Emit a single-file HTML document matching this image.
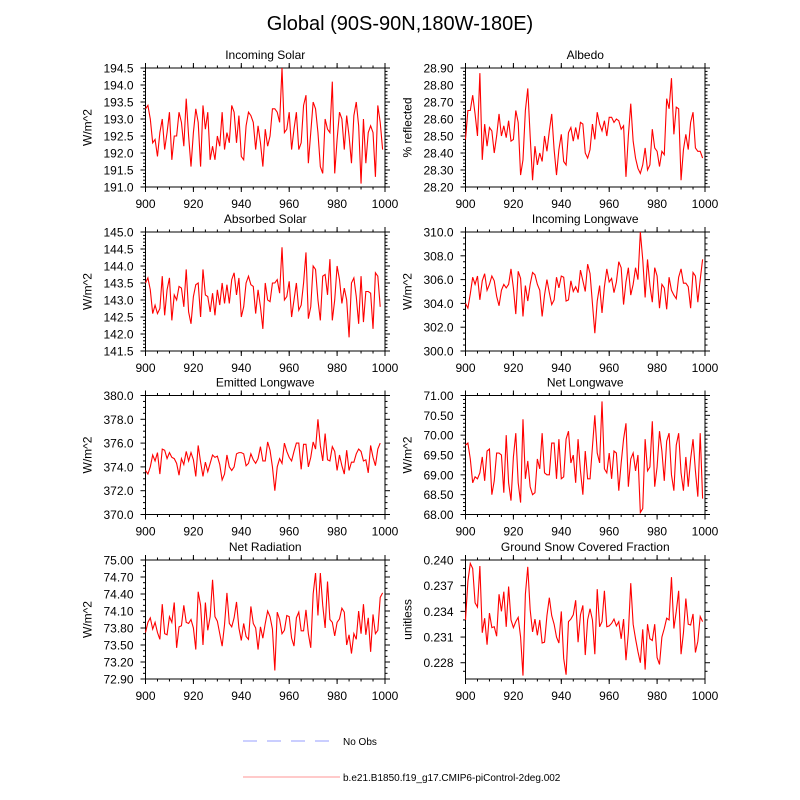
<!DOCTYPE html>
<html><head><meta charset="utf-8">
<style>
html,body{margin:0;padding:0;background:#fff;}
svg{display:block;font-family:"Liberation Sans",sans-serif;}
</style></head>
<body>
<svg id="chart" width="800" height="800" viewBox="0 0 800 800" xmlns="http://www.w3.org/2000/svg">
<rect width="800" height="800" fill="#fff"/>
<text x="400" y="30" font-size="20" text-anchor="middle">Global (90S-90N,180W-180E)</text>
<g id="panels"></g>
<line x1="243" y1="741" x2="333" y2="741" stroke="#aab0ff" stroke-width="1.2" stroke-dasharray="14,10"/>
<text x="343" y="745" font-size="10">No Obs</text>
<line x1="243" y1="777" x2="340" y2="777" stroke="#ffaaaa" stroke-width="1.2"/>
<text x="343" y="781" font-size="10">b.e21.B1850.f19_g17.CMIP6-piControl-2deg.002</text>
</svg>
<script>
const xTicks = [900,920,940,960,980,1000];
const incomingSolar = [193.3,193.4,193.0,192.3,192.4,191.9,192.6,193.0,192.1,192.6,193.2,191.8,192.5,192.5,193.2,192.9,192.2,193.6,192.5,191.6,192.6,193.3,192.9,191.6,193.4,192.7,193.2,191.8,192.2,191.8,192.5,192.2,193.2,192.1,192.6,192.3,193.4,193.2,192.3,193.1,191.9,191.8,192.8,193.2,193.1,192.9,192.1,192.8,192.3,191.6,192.7,192.2,192.5,193.3,193.3,193.2,192.9,194.5,192.6,192.7,193.2,192.1,192.7,193.2,192.1,192.3,193.4,193.7,191.7,192.6,193.5,193.3,192.6,191.6,191.4,193.0,192.7,192.6,194.1,191.4,192.4,193.2,193.0,192.1,193.1,192.5,191.7,193.1,193.5,192.8,191.1,193.0,191.7,192.6,192.8,192.6,191.3,193.4,192.9,192.1];
const albedo = [28.48,28.65,28.65,28.74,28.63,28.50,28.87,28.36,28.57,28.44,28.55,28.53,28.40,28.50,28.63,28.50,28.56,28.49,28.59,28.47,28.48,28.65,28.58,28.27,28.36,28.65,28.78,28.50,28.24,28.44,28.33,28.40,28.35,28.50,28.41,28.53,28.63,28.42,28.27,28.42,28.51,28.35,28.33,28.52,28.55,28.47,28.55,28.48,28.58,28.57,28.40,28.37,28.42,28.57,28.48,28.64,28.57,28.53,28.59,28.50,28.61,28.61,28.58,28.60,28.59,28.54,28.56,28.26,28.50,28.69,28.47,28.37,28.31,28.28,28.33,28.43,28.30,28.33,28.54,28.43,28.41,28.32,28.41,28.39,28.72,28.66,28.84,28.51,28.67,28.66,28.24,28.42,28.51,28.42,28.58,28.64,28.43,28.41,28.41,28.37];
const absorbedSolar = [143.5,143.65,143.3,142.6,142.85,142.6,142.75,143.7,142.55,143.3,143.65,142.4,143.15,143.0,143.4,143.35,142.8,143.9,142.65,142.3,143.1,143.45,143.5,142.5,143.9,143.15,143.1,142.65,143.2,142.55,143.3,142.85,143.5,142.9,143.45,142.9,143.6,143.8,143.15,143.65,142.5,142.8,143.5,143.7,143.45,143.4,142.6,143.3,142.8,142.15,143.5,143.0,142.95,143.5,143.5,143.6,143.2,144.55,143.0,143.1,143.55,142.5,143.0,143.5,142.7,142.85,143.5,144.4,142.45,142.8,144.0,143.9,143.0,142.4,143.7,143.75,143.15,144.2,142.4,143.0,144.0,143.6,142.9,143.35,143.0,141.9,143.5,143.65,143.1,142.3,143.7,142.35,143.25,143.25,143.2,142.15,143.8,143.7,142.8];
const incomingLW = [304.0,303.6,304.8,306.2,305.6,306.3,304.3,305.9,306.5,305.1,305.6,306.3,305.9,304.6,303.8,305.1,305.6,305.3,305.6,306.9,305.3,303.1,306.7,306.1,302.9,305.5,304.2,305.6,306.6,306.4,305.6,305.1,302.9,304.7,306.0,304.9,303.9,304.3,306.2,305.3,306.3,306.2,304.2,304.3,305.9,305.0,305.4,304.9,306.8,305.9,305.0,307.3,306.5,304.0,301.5,304.2,305.5,303.2,305.4,306.9,305.8,306.1,304.9,305.8,307.5,307.0,303.9,305.8,307.0,304.7,305.6,307.0,306.0,310.0,307.7,304.5,307.7,305.5,304.1,307.0,306.3,303.6,305.6,305.3,303.5,306.2,305.1,304.7,304.4,306.2,306.9,305.7,305.7,305.4,303.6,306.6,306.3,304.1,306.0,307.7];
const emittedLW = [373.7,373.4,374.0,375.0,374.5,375.2,373.4,375.5,375.4,374.7,375.2,374.8,374.7,374.3,373.3,374.7,374.2,375.3,374.5,375.2,374.6,373.2,375.8,374.4,373.2,374.4,373.6,374.3,375.0,374.8,374.9,374.2,372.9,373.4,375.0,374.0,373.7,374.0,375.1,375.2,375.2,375.1,374.1,374.3,375.1,374.6,374.3,374.7,375.7,374.5,374.5,376.1,375.4,374.0,372.0,374.0,374.7,374.3,376.0,375.3,374.8,374.5,375.3,376.0,376.0,373.8,375.9,375.9,374.0,374.8,376.1,375.5,378.0,375.8,374.5,376.8,374.6,374.5,375.7,375.3,373.7,375.0,374.1,373.4,375.4,373.7,374.4,374.4,375.1,375.5,375.3,374.5,374.6,373.5,375.8,374.8,374.1,375.5,376.0];
const netLW = [69.75,69.80,69.40,68.80,68.95,68.90,69.05,69.45,68.85,69.60,69.65,68.50,68.85,69.55,69.55,69.50,68.55,70.00,68.80,68.35,69.45,70.05,68.80,68.30,70.40,68.90,69.35,68.70,68.50,68.55,69.40,69.15,70.05,69.05,69.00,69.00,69.80,69.80,68.90,69.90,68.90,68.95,69.90,70.10,69.30,69.50,68.80,69.90,69.10,68.50,69.60,68.90,68.90,69.70,70.50,69.55,69.30,70.85,69.15,69.05,69.55,68.90,69.60,69.55,68.60,69.30,69.90,70.30,68.70,69.40,69.55,69.10,69.50,68.05,68.15,69.90,69.10,69.20,70.35,68.70,69.20,70.10,69.60,68.85,69.85,70.05,69.00,68.60,69.75,70.05,69.05,68.60,69.45,68.70,69.40,69.90,69.10,68.45,70.05,68.40];
const netRad = [73.72,73.90,73.98,73.78,73.90,73.72,73.60,74.22,73.70,73.68,74.00,73.90,74.25,73.45,73.82,73.84,74.20,73.90,73.88,73.95,73.80,73.42,74.44,74.20,73.50,74.25,73.76,74.00,74.65,74.00,73.92,73.70,73.48,73.86,74.42,73.88,73.82,73.98,74.26,73.80,73.58,73.88,73.65,73.60,74.18,73.88,73.80,73.42,73.82,73.62,73.88,74.10,74.00,73.78,73.05,74.08,73.95,73.70,73.76,74.02,74.00,73.62,73.48,73.98,74.08,73.75,73.75,74.12,73.70,73.45,74.40,74.77,74.02,74.77,74.20,73.80,74.62,73.95,73.90,73.66,73.90,73.96,74.15,74.08,73.50,73.68,73.35,73.70,73.60,74.10,73.70,74.22,73.68,73.98,73.38,74.04,73.70,73.76,74.34,74.42];
const snowFrac = [0.2330,0.2375,0.2396,0.2390,0.2350,0.2345,0.2393,0.2315,0.2332,0.2301,0.2338,0.2321,0.2322,0.2311,0.2360,0.2340,0.2363,0.2322,0.2369,0.2330,0.2321,0.2328,0.2333,0.2310,0.2265,0.2360,0.2392,0.2342,0.2316,0.2331,0.2312,0.2330,0.2303,0.2304,0.2335,0.2356,0.2335,0.2325,0.2310,0.2303,0.2340,0.2285,0.2266,0.2328,0.2331,0.2336,0.2353,0.2304,0.2336,0.2347,0.2289,0.2330,0.2343,0.2330,0.2290,0.2366,0.2322,0.2328,0.2364,0.2322,0.2323,0.2326,0.2331,0.2323,0.2328,0.2308,0.2331,0.2283,0.2315,0.2373,0.2325,0.2308,0.2293,0.2280,0.2319,0.2272,0.2325,0.2308,0.2306,0.2325,0.2286,0.2278,0.2310,0.2320,0.2332,0.2330,0.2380,0.2320,0.2340,0.2364,0.2290,0.2315,0.2355,0.2325,0.2324,0.2337,0.2292,0.2305,0.2334,0.2328];

const isTicks = [191.0,191.5,192.0,192.5,193.0,193.5,194.0,194.5];
const alTicks = [28.2,28.3,28.4,28.5,28.6,28.7,28.8,28.9];
const asTicks = [141.5,142.0,142.5,143.0,143.5,144.0,144.5,145.0];
const ilTicks = [300,302,304,306,308,310];
const elTicks = [370,372,374,376,378,380];
const nlTicks = [68,68.5,69,69.5,70,70.5,71];
const nrTicks = [72.9,73.2,73.5,73.8,74.1,74.4,74.7,75.0];
const snTicks = [0.228,0.231,0.234,0.237,0.240];

const NS='http://www.w3.org/2000/svg';
const root=document.getElementById('panels');
function mk(tag,attrs,parent){const e=document.createElementNS(NS,tag);for(const k in attrs)e.setAttribute(k,attrs[k]);(parent||root).appendChild(e);return e;}

const panels=[
 {name:'incoming-solar',title:'Incoming Solar',ylab:'W/m^2',data:incomingSolar,ticks:isTicks,min:191,max:194.5,dec:1,minorN:5,col:0,row:0},
 {name:'albedo',title:'Albedo',ylab:'% reflected',data:albedo,ticks:alTicks,min:28.2,max:28.9,dec:2,minorN:5,col:1,row:0},
 {name:'absorbed-solar',title:'Absorbed Solar',ylab:'W/m^2',data:absorbedSolar,ticks:asTicks,min:141.5,max:145,dec:1,minorN:5,col:0,row:1},
 {name:'incoming-longwave',title:'Incoming Longwave',ylab:'W/m^2',data:incomingLW,ticks:ilTicks,min:300,max:310,dec:1,minorN:4,col:1,row:1},
 {name:'emitted-longwave',title:'Emitted Longwave',ylab:'W/m^2',data:emittedLW,ticks:elTicks,min:370,max:380,dec:1,minorN:4,col:0,row:2},
 {name:'net-longwave',title:'Net Longwave',ylab:'W/m^2',data:netLW,ticks:nlTicks,min:68,max:71,dec:2,minorN:5,col:1,row:2},
 {name:'net-radiation',title:'Net Radiation',ylab:'W/m^2',data:netRad,ticks:nrTicks,min:72.9,max:75,dec:2,minorN:3,col:0,row:3},
 {name:'ground-snow-covered-fraction',title:'Ground Snow Covered Fraction',ylab:'unitless',data:snowFrac,ticks:snTicks,min:0.2261,max:0.240,dec:3,minorN:3,col:1,row:3}
];
const colX=[145.5,465.5], W=239.5;
const rowY=[68,232,395.5,560], H=119;

panels.forEach(p=>{
  const x0=colX[p.col], y0=rowY[p.row];
  const g=mk('g',{});
  
  
  const sx=v=>x0+(v-900)/100*W;
  const sy=v=>y0+H-(v-p.min)/(p.max-p.min)*H;
  const t=mk('text',{x:x0+W/2,y:y0-9,'font-size':12,'text-anchor':'middle'},g);
  
  
  t.textContent=p.title;
  const yl=mk('text',{x:0,y:0,'font-size':12,'text-anchor':'middle',transform:`translate(${x0-54},${y0+H/2}) rotate(-90)`},g);
  
  
  yl.textContent=p.ylab;
  const fr=mk('rect',{x:x0,y:y0,width:W,height:H,fill:'none',stroke:'#000','stroke-width':1},g);
  
  
  xTicks.forEach(v=>{
    const X=sx(v);
    mk('line',{x1:X,y1:y0+H,x2:X,y2:y0+H+5,stroke:'#000'},g);
    mk('line',{x1:X,y1:y0,x2:X,y2:y0-5,stroke:'#000'},g);
    const l=mk('text',{x:X,y:y0+H+21,'font-size':12,'text-anchor':'middle'},g);
    
    
    l.textContent=v;
  });
  for(let v=900;v<=1000;v+=5){const X=sx(v);mk('line',{x1:X,y1:y0+H,x2:X,y2:y0+H+2.5,stroke:'#000'},g);mk('line',{x1:X,y1:y0,x2:X,y2:y0-2.5,stroke:'#000'},g);}
  p.ticks.forEach((v,i)=>{
    const Y=sy(v);
    mk('line',{x1:x0,y1:Y,x2:x0-5,y2:Y,stroke:'#000'},g);
    mk('line',{x1:x0+W,y1:Y,x2:x0+W+5,y2:Y,stroke:'#000'},g);
    const l=mk('text',{x:x0-12,y:Y+4.5,'font-size':12,'text-anchor':'end'},g);
    
    
    l.textContent=v.toFixed(p.dec);
    if(i<p.ticks.length-1){
      const step=(p.ticks[i+1]-v)/p.minorN;
      for(let k=1;k<p.minorN;k++){const Ym=sy(v+k*step);mk('line',{x1:x0,y1:Ym,x2:x0-2.5,y2:Ym,stroke:'#000'},g);mk('line',{x1:x0+W,y1:Ym,x2:x0+W+2.5,y2:Ym,stroke:'#000'},g);}
    }
  });
  if(p.ticks[0]>p.min){const step=(p.ticks[1]-p.ticks[0])/p.minorN;for(let v=p.ticks[0]-step;v>=p.min-1e-9;v-=step){const Ym=sy(v);mk('line',{x1:x0,y1:Ym,x2:x0-2.5,y2:Ym,stroke:'#000'},g);mk('line',{x1:x0+W,y1:Ym,x2:x0+W+2.5,y2:Ym,stroke:'#000'},g);}}
  const pts=p.data.map((v,i)=>sx(900+i).toFixed(2)+','+sy(v).toFixed(2)).join(' ');
  const pl=mk('polyline',{points:pts,fill:'none',stroke:'#ff0000','stroke-width':1.1},g);
  
  
});
</script>
</body></html>
